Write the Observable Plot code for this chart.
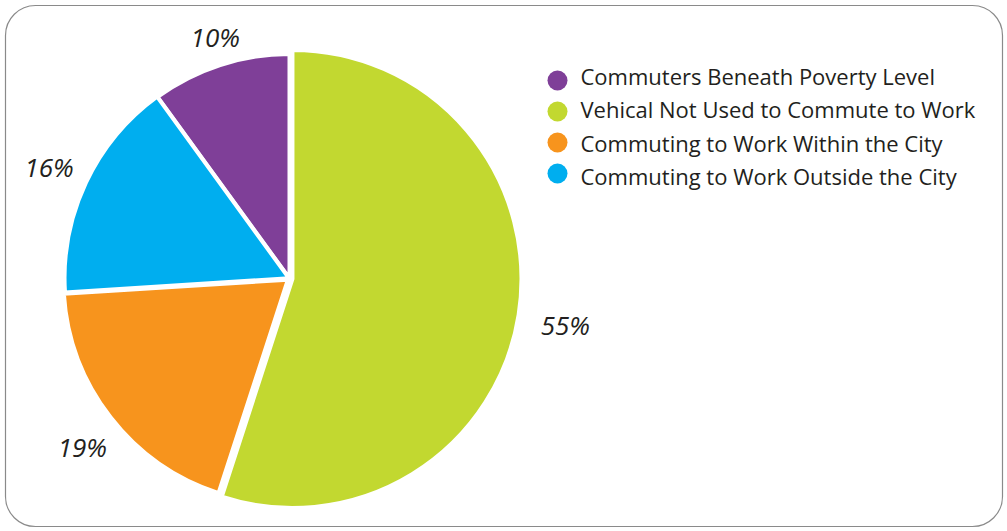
<!DOCTYPE html>
<html>
<head>
<meta charset="utf-8">
<script src="https://cdn.jsdelivr.net/npm/d3@7"></script>
<script src="https://cdn.jsdelivr.net/npm/@observablehq/plot@0.6"></script>
<style>
  html, body { margin: 0; padding: 0; background: #fff; overflow: hidden; }
  #chart svg { display: block; font-family: "Open Sans", "Noto Sans", sans-serif; }
</style>
</head>
<body>
<div id="chart"></div>
<script>
// Categories in legend order
const categories = [
  "Commuters Beneath Poverty Level",
  "Vehical Not Used to Commute to Work",
  "Commuting to Work Within the City",
  "Commuting to Work Outside the City"
];
// Share of each category (percent)
const shares = [10, 55, 19, 16];
// Order the slices are drawn clockwise from 12 o'clock
const sliceOrder = [
  "Vehical Not Used to Commute to Work",
  "Commuting to Work Within the City",
  "Commuting to Work Outside the City",
  "Commuters Beneath Poverty Level"
];
const labels = shares.map(v => v + "%");
const colors = ["#7f3f98", "#c2d830", "#f7941d", "#00aeef"];

const W = 1007, H = 531;
const CX = 289.5, CY = 278.5, R = 224.5;
// small outward shift (exploded look) per slice, in px
const explode = {
  "Vehical Not Used to Commute to Work": 3,
  "Commuting to Work Within the City": 2,
  "Commuting to Work Outside the City": 0.5,
  "Commuters Beneath Poverty Level": 0
};
const extraRadius = {"Vehical Not Used to Commute to Work": 4.5};

const rows = categories.map((c, i) => ({category: c, value: shares[i], label: labels[i]}));
const pie = d3.pie()
  .value(d => d.value)
  .sort((a, b) => sliceOrder.indexOf(a.category) - sliceOrder.indexOf(b.category));
const arcs = pie(rows);

// label positions from slice mid-angles
const LX = CX + 5, LY = CY + 5;
const labelData = arcs.map(a => {
  const mid = (a.startAngle + a.endAngle) / 2;
  const lr = 251 + 23 * Math.abs(Math.sin(mid));
  return {text: a.data.label, x: LX + lr * Math.sin(mid), y: LY - lr * Math.cos(mid)};
});

function pieMark(index, scales) {
  const cx = scales.x(CX), cy = scales.y(CY);
  const g = d3.create("svg:g");
  for (const a of arcs) {
    const mid = (a.startAngle + a.endAngle) / 2;
    const off = explode[a.data.category] || 0;
    const r = scales.x(CX + R + (extraRadius[a.data.category] || 0)) - scales.x(CX);
    const arcGen = d3.arc().innerRadius(0).outerRadius(r);
    g.append("path")
      .attr("d", arcGen(a))
      .attr("transform", `translate(${cx + off * Math.sin(mid)},${cy - off * Math.cos(mid)})`)
      .attr("fill", scales.color(a.data.category))
      .attr("stroke", "#fff")
      .attr("stroke-width", 4)
      .attr("stroke-linejoin", "round");
  }
  return g.node();
}

const legendRows = categories.map((c, i) => ({category: c, i}));

const plot = Plot.plot({
  width: W,
  height: H,
  margin: 0,
  x: {domain: [0, W], range: [0, W], axis: null},
  y: {domain: [0, H], range: [0, H], axis: null},
  color: {domain: categories, range: colors},
  marks: [
    Plot.frame({stroke: "#8a8a8a", strokeWidth: 1.2, rx: 30, inset: 5}),
    pieMark,
    Plot.text(labelData, {
      x: "x", y: "y", text: "text",
      fontSize: 26, fontStyle: "italic", fill: "#231f20", textAnchor: "middle"
    }),
    Plot.dot(legendRows, {
      x: () => 557, y: d => 80 + d.i * 31,
      r: 10, fill: "category", stroke: null
    }),
    Plot.text(legendRows, {
      x: () => 580, y: d => 77 + d.i * 33.5, text: "category",
      textAnchor: "start", fontSize: 22, fill: "#231f20"
    })
  ]
});
document.getElementById("chart").appendChild(plot);
</script>
</body>
</html>
